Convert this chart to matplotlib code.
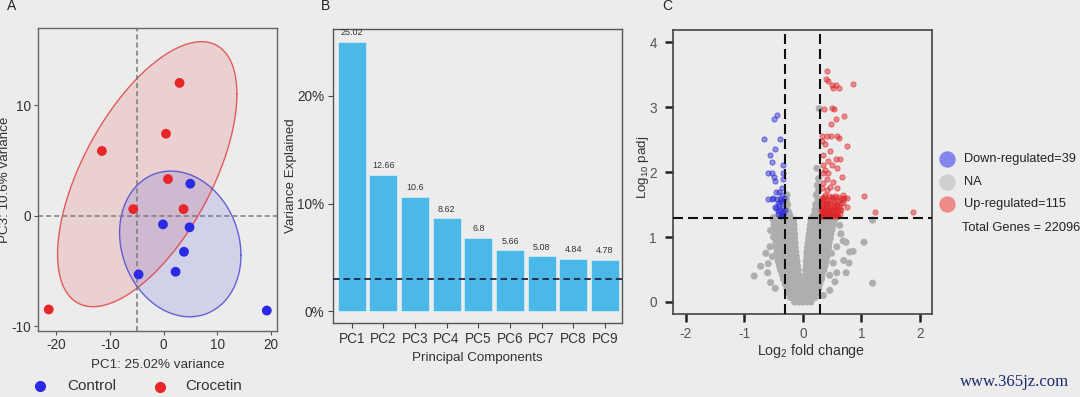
import matplotlib

matplotlib.use("agg")
import matplotlib.pyplot as plt
import numpy as np
from matplotlib.lines import Line2D

plt.rcParams["font.family"] = ["Liberation Sans", "DejaVu Sans"]
plt.rcParams["mathtext.fontset"] = "custom"
plt.rcParams["mathtext.rm"] = "Liberation Sans"
plt.rcParams["axes.unicode_minus"] = False

bg = "#ececec"
W, H = 1080, 397

# ---- panel A: PCA scores, PC1 vs PC3
control_pc1 = [4.95, -0.13, 4.82, 3.78, 2.22, -4.67, 19.2]
control_pc3 = [2.88, -0.8, -1.07, -3.28, -5.09, -5.33, -8.6]
crocetin_pc1 = [2.96, 0.43, -11.5, 0.8, -5.66, 3.7, -21.4]
crocetin_pc3 = [12.0, 7.4, 5.84, 3.3, 0.58, 0.58, -8.5]
# ellipse: centre x, centre y, var x, var y, cov
control_ellipse = [3.09, -2.57, 127.7, 43.5, -11.5]
crocetin_ellipse = [-3.06, 3.74, 278.9, 143.8, 121.0]

# ---- panel B: scree plot
pc_names = ["PC1", "PC2", "PC3", "PC4", "PC5", "PC6", "PC7", "PC8", "PC9"]
variance = [25.02, 12.66, 10.6, 8.62, 6.8, 5.66, 5.08, 4.84, 4.78]
variance_cutoff = 3.0

# ---- panel C: volcano plot
down_x = [-0.445, -0.486, -0.662, -0.394, -0.474, -0.56, -0.526, -0.343, -0.6, -0.526,
          -0.486, -0.343, -0.474, -0.36, -0.462, -0.589, -0.53, -0.445, -0.39, -0.36,
          -0.418, -0.333, -0.474, -0.39, -0.343, -0.43, -0.40, -0.36, -0.38, -0.42,
          -0.35, -0.32, -0.33, -0.45, -0.37, -0.5, -0.34, -0.31, -0.4]
down_y = [2.88, 2.82, 2.51, 2.51, 2.35, 2.26, 2.16, 2.11, 1.99, 1.98,
          1.92, 1.98, 1.87, 1.76, 1.70, 1.585, 1.585, 1.585, 1.585, 1.65,
          1.52, 1.54, 1.47, 1.415, 1.39, 1.36, 1.49, 1.35, 1.33, 1.40,
          1.45, 1.6, 1.35, 1.45, 1.55, 1.6, 1.9, 1.42, 1.7]

up_x = [0.418, 0.396, 0.435, 0.493, 0.567, 0.52, 0.623, 0.851, 0.367, 0.493,
        0.532, 0.703, 0.567, 0.476, 0.322, 0.418, 0.476, 0.578, 0.623, 0.322,
        0.379, 0.76, 0.464, 0.34, 0.435, 0.567, 0.635, 0.35, 0.493, 0.379,
        0.34, 0.435, 0.578, 0.664, 0.408, 0.52, 0.35, 0.464, 0.322, 0.408,
        0.578, 0.691, 0.749, 1.044, 0.635, 0.52, 0.379, 0.322, 0.435, 0.578,
        0.691, 0.35, 0.493, 0.635, 0.322, 0.408, 0.549, 0.749, 0.35, 0.464,
        1.232, 1.886,
        0.31, 0.33, 0.36, 0.39, 0.42, 0.45, 0.48, 0.52, 0.56, 0.6,
        0.32, 0.37, 0.41, 0.44, 0.5, 0.53, 0.58, 0.63,
        0.31, 0.34, 0.38, 0.43, 0.46, 0.51, 0.55, 0.6, 0.66,
        0.33, 0.36, 0.4, 0.45, 0.48, 0.53, 0.57, 0.62,
        0.31, 0.35, 0.39, 0.42, 0.47, 0.51, 0.55, 0.6, 0.66,
        0.32, 0.37, 0.41, 0.45, 0.5, 0.55, 0.6, 0.68, 0.71]
up_y = [3.565, 3.43, 3.40, 3.35, 3.35, 3.29, 3.30, 3.365, 2.98, 2.99,
        2.98, 2.87, 2.82, 2.74, 2.55, 2.55, 2.56, 2.56, 2.53, 2.48,
        2.43, 2.40, 2.33, 2.27, 2.17, 2.20, 2.20, 2.11, 2.11, 2.03,
        1.98, 1.98, 2.06, 1.93, 1.90, 1.85, 1.83, 1.775, 1.75, 1.72,
        1.75, 1.65, 1.60, 1.635, 1.585, 1.60, 1.65, 1.57, 1.52, 1.49,
        1.52, 1.47, 1.43, 1.43, 1.39, 1.38, 1.38, 1.47, 1.34, 1.34,
        1.39, 1.39,
        1.32, 1.33, 1.32, 1.33, 1.32, 1.33, 1.32, 1.33, 1.32, 1.33,
        1.36, 1.36, 1.35, 1.37, 1.36, 1.35, 1.36, 1.35,
        1.41, 1.40, 1.42, 1.41, 1.40, 1.42, 1.41, 1.40, 1.42,
        1.45, 1.48, 1.46, 1.45, 1.48, 1.46, 1.48, 1.46,
        1.52, 1.54, 1.51, 1.55, 1.53, 1.56, 1.53, 1.55, 1.53,
        1.6, 1.62, 1.58, 1.64, 1.61, 1.63, 1.62, 1.58, 1.6]

# non-significant genes: the dense V, one row per -log10 padj level
ns_rows = [
    (0.00, [-0.14, -0.07, 0.0, 0.07, 0.14]),
    (0.07, [-0.21, -0.14, -0.07, 0.0, 0.07, 0.14, 0.21]),
    (0.14, [-0.24, -0.17, -0.1, -0.03, 0.04, 0.11, 0.18, 0.24]),
    (0.21, [-0.27, -0.2, -0.13, -0.06, 0.01, 0.08, 0.15, 0.22, 0.27]),
    (0.28, [-0.3, -0.23, -0.16, -0.09, -0.03, 0.03, 0.09, 0.16, 0.23, 0.29]),
    (0.35, [-0.33, -0.26, -0.19, -0.12, -0.05, 0.04, 0.11, 0.18, 0.25, 0.32]),
    (0.42, [-0.35, -0.28, -0.21, -0.14, -0.07, 0.05, 0.12, 0.19, 0.26, 0.33]),
    (0.49, [-0.38, -0.31, -0.24, -0.17, -0.08, 0.05, 0.13, 0.2, 0.28, 0.36]),
    (0.56, [-0.4, -0.33, -0.26, -0.18, -0.09, 0.06, 0.14, 0.22, 0.3, 0.38]),
    (0.63, [-0.42, -0.35, -0.27, -0.19, -0.1, 0.06, 0.14, 0.23, 0.31, 0.4]),
    (0.70, [-0.43, -0.36, -0.28, -0.2, -0.11, 0.07, 0.15, 0.24, 0.33, 0.41]),
    (0.77, [-0.44, -0.37, -0.29, -0.21, -0.12, 0.07, 0.16, 0.25, 0.34, 0.43]),
    (0.84, [-0.45, -0.37, -0.29, -0.21, -0.13, 0.08, 0.17, 0.26, 0.35, 0.44]),
    (0.91, [-0.46, -0.38, -0.3, -0.22, -0.13, 0.09, 0.18, 0.27, 0.36, 0.45]),
    (0.98, [-0.47, -0.39, -0.31, -0.23, -0.14, 0.1, 0.19, 0.28, 0.37, 0.47]),
    (1.05, [-0.47, -0.39, -0.31, -0.23, -0.14, 0.11, 0.2, 0.29, 0.39, 0.48]),
    (1.12, [-0.48, -0.4, -0.32, -0.24, -0.15, 0.12, 0.21, 0.3, 0.4, 0.5]),
    (1.19, [-0.49, -0.41, -0.33, -0.24, -0.15, 0.13, 0.22, 0.31, 0.41, 0.52]),
    (1.26, [-0.5, -0.42, -0.33, -0.25, -0.16, 0.14, 0.23, 0.33, 0.43, 0.54]),
    (1.30, [-0.5, -0.42, -0.34, -0.26, 0.16, 0.25, 0.35, 0.45, 0.56]),
]
# scattered non-significant genes around the V
ns_extra_x = [-0.83, -0.72, -0.63, -0.59, -0.47, -0.5, -0.55, -0.6, -0.55, -0.52, -0.56,
              1.044, 1.19, 1.19, 0.65, 0.69, 0.74, 0.8, 0.86, 0.70, 0.79, 0.74, 0.58,
              0.55, 0.46, 0.63, 0.58, 0.52, 0.49, 0.46, 0.35,
              -0.28, -0.27, -0.26, -0.28, -0.27, -0.24, -0.22,
              0.2, 0.24, 0.27, 0.22, 0.26, 0.23, 0.27, 0.25, 0.27, 0.24, 0.28, 0.21]
ns_extra_y = [0.40, 0.55, 0.75, 0.59, 0.21, 1.0, 1.1, 0.45, 0.3, 0.7, 0.85,
              0.92, 0.29, 1.26, 1.05, 0.94, 0.92, 0.77, 0.78, 0.64, 0.60, 0.45, 0.45,
              0.31, 0.18, 1.18, 0.85, 0.6, 0.75, 0.41, 0.10,
              1.35, 1.42, 1.5, 1.58, 1.65, 1.38, 1.33,
              1.35, 1.4, 1.45, 1.5, 1.58, 1.65, 1.72, 1.8, 1.9, 2.06, 2.98, 1.42]
lfc_cut = 0.3
padj_cut = 1.3
legend_labels = ["Down-regulated=39", "NA", "Up-regulated=115"]
total_genes = 22096

fig = plt.figure(figsize=(W / 100, H / 100), dpi=100, facecolor=bg)


def px_ax(left, top, right, bottom):
    return fig.add_axes([left / W, 1 - bottom / H, (right - left) / W, (bottom - top) / H])


def ftext(x, y, s, **kw):
    fig.text(x / W, 1 - y / H, s, **kw)


def fdot(x, y, color, size):
    fig.add_artist(Line2D([x / W], [1 - y / H], marker="o", color=color, markersize=size,
                          linestyle="", transform=fig.transFigure))


# ================= A =================
ax1 = px_ax(38, 28, 277, 331)
ax1.set_facecolor(bg)
t = np.linspace(0, 2 * np.pi, 200)
for ell, col in [(crocetin_ellipse, "#e03030"), (control_ellipse, "#3a3ad0")]:
    cx, cy, sxx, syy, sxy = ell
    L = np.linalg.cholesky(np.array([[sxx, sxy], [sxy, syy]]))
    pts = L @ np.vstack([np.cos(t), np.sin(t)])
    ax1.fill(cx + pts[0], cy + pts[1], facecolor=col, alpha=0.15, edgecolor="none")
    ax1.plot(cx + pts[0], cy + pts[1], color=col, lw=1.0, alpha=0.75)
ax1.axvline(-5, color="#7a7a7a", lw=1.1, ls=(0, (3.3, 2.0)))
ax1.axhline(0, color="#7a7a7a", lw=1.1, ls=(0, (3.3, 2.0)))
ax1.scatter(crocetin_pc1, crocetin_pc3, s=50, color="#e8262a", zorder=3, edgecolor="none")
ax1.scatter(control_pc1, control_pc3, s=50, color="#2a2ae6", zorder=3, edgecolor="none")
ax1.set_xlim(-23.4, 21.1)
ax1.set_ylim(-10.45, 16.97)
ax1.set_xticks([-20, -10, 0, 10, 20])
ax1.set_yticks([-10, 0, 10])
ax1.tick_params(length=3, color="#555555", labelsize=9.8, labelcolor="#333333", pad=2)
for sp in ax1.spines.values():
    sp.set_color("#666666")
    sp.set_linewidth(1.0)
ftext(157.5, 365, "PC1: 25.02% variance", ha="center", va="center", size=9.6, color="#333333")
ftext(5, 179.5, "PC3: 10.6% variance", ha="center", va="center", rotation=90, size=9.6,
      color="#333333")
fdot(40, 386, "#2a2ae6", 7)
ftext(67, 386, "Control", va="center", size=11, color="#333333")
fdot(160, 386.5, "#e8262a", 7)
ftext(185, 386.5, "Crocetin", va="center", size=11, color="#333333")
ftext(12, 6, "A", ha="center", va="center", size=10, color="#222222")

# ================= B =================
ax2 = px_ax(333.3, 29.3, 622.3, 323.3)
ax2.set_facecolor(bg)
xpos = np.arange(1, len(pc_names) + 1)
ax2.bar(xpos, variance, width=0.88, color="#4cb8e8", edgecolor="#d8eef8", lw=0.5, zorder=2)
for xi, v in zip(xpos, variance):
    ax2.annotate(f"{v:g}", (xi, v), xytext=(0, 6.6), textcoords="offset points",
                 ha="center", va="center", size=6.4, color="#333333", zorder=4)
ax2.axhline(variance_cutoff, color="#1c2b45", lw=1.3, ls=(0, (3.6, 2.2)), zorder=3)
ax2.set_xlim(0.42, 9.55)
ax2.set_ylim(-1.14, 26.2)
ax2.set_xticks(xpos)
ax2.set_xticklabels(pc_names)
ax2.set_yticks([0, 10, 20])
ax2.set_yticklabels(["0%", "10%", "20%"])
ax2.tick_params(length=3.5, color="#444444", labelsize=9.8, labelcolor="#333333", pad=3)
for sp in ax2.spines.values():
    sp.set_color("#555555")
    sp.set_linewidth(1.0)
ftext(477, 358, "Principal Components", ha="center", va="center", size=9.6, color="#333333")
ftext(291, 176, "Variance Explained", ha="center", va="center", rotation=90, size=9.6,
      color="#333333")
ftext(325, 6, "B", ha="center", va="center", size=10, color="#222222")

# ================= C =================
ax3 = px_ax(673.3, 30, 931.7, 314.3)
ax3.set_facecolor(bg)
ns_x = [x for y, xs in ns_rows for x in xs] + ns_extra_x
ns_y = [y for y, xs in ns_rows for x in xs] + ns_extra_y
ax3.scatter(ns_x, ns_y, s=26, facecolor="#aeaeae", edgecolor="none", zorder=2)
ax3.scatter(down_x, down_y, s=14, facecolor=(0.12, 0.12, 0.88, 0.45),
            edgecolor=(0.2, 0.2, 0.8, 0.7), lw=0.6, zorder=3)
ax3.scatter(up_x, up_y, s=14, facecolor=(0.9, 0.08, 0.1, 0.45),
            edgecolor=(0.85, 0.2, 0.2, 0.7), lw=0.6, zorder=3)
for xv in (-lfc_cut, lfc_cut):
    ax3.axvline(xv, color="#111111", lw=1.5, ls=(0, (4.8, 2.4)), zorder=4)
ax3.axhline(padj_cut, color="#111111", lw=1.5, ls=(0, (4.8, 2.4)), zorder=4)
ax3.set_xlim(-2.21, 2.2)
ax3.set_ylim(-0.19, 4.19)
ax3.set_xticks([-2, -1, 0, 1, 2])
ax3.set_yticks([0, 1, 2, 3, 4])
ax3.tick_params(length=5.8, width=1.8, color="#222222", labelsize=9.8, labelcolor="#555555")
ax3.tick_params(axis="y", pad=6)
ax3.tick_params(axis="x", pad=3)
for sp in ax3.spines.values():
    sp.set_color("#444444")
    sp.set_linewidth(1.2)
ftext(810.5, 351, r"Log$\mathregular{_2}$ fold change", ha="center", va="center", size=10.2,
      color="#333333")
ftext(643, 167, r"Log$\mathregular{_{10}}$ padj", ha="center", va="center", rotation=90,
      size=9.6, color="#333333")
ftext(667, 6, "C", ha="center", va="center", size=10, color="#222222")

for yy, col, lab in zip([159, 181.7, 204], ["#8585ee", "#cfcfcf", "#ee8a8a"], legend_labels):
    fdot(947.3, yy, col, 10.8)
    ftext(964, yy, lab, va="center", size=9.2, color="#222222")
ftext(961.7, 228.3, f"Total Genes = {total_genes}", va="center", size=9.2, color="#222222")

ftext(1015, 381.5, "www.365jz.com", ha="center", va="center", size=12,
      family=["Liberation Serif", "DejaVu Serif"], color="#1a2870")

fig.savefig("out.png", dpi=100, facecolor=bg)
